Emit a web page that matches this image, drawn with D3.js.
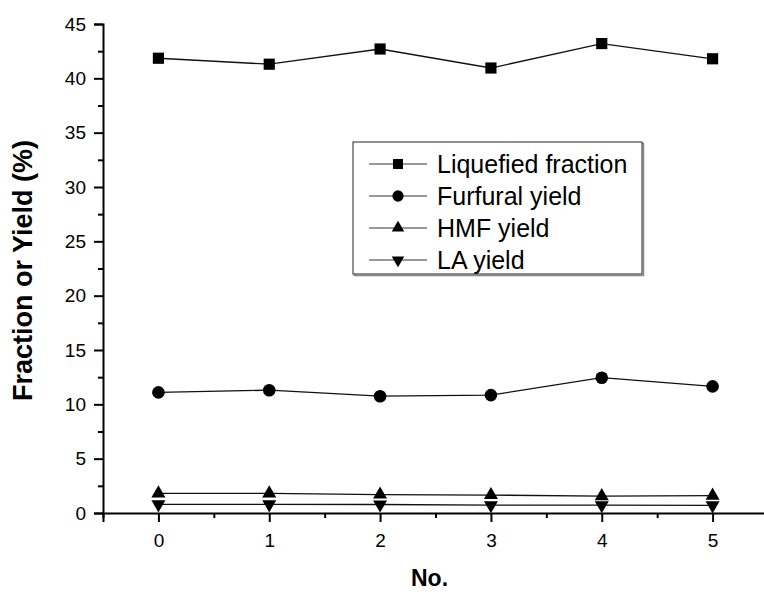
<!DOCTYPE html>
<html>
<head>
<meta charset="utf-8">
<script src="https://cdn.jsdelivr.net/npm/d3@7"></script>
<style>
    body { margin: 0; background: #fff; }
    svg { display: block; font-family: "Liberation Sans", Arial, sans-serif; }
</style>
</head>
<body>
<div id="chart"></div>
<script>
// Data
const runs = [0, 1, 2, 3, 4, 5];
const liquefied = [41.85, 41.3, 42.7, 40.95, 43.2, 41.8];
const furfural = [11.1, 11.3, 10.75, 10.85, 12.45, 11.65];
const hmf = [1.8, 1.8, 1.7, 1.65, 1.55, 1.6];
const la = [0.8, 0.8, 0.78, 0.72, 0.72, 0.7];
const seriesNames = ["Liquefied fraction", "Furfural yield", "HMF yield", "LA yield"];
const yTicks = [0, 5, 10, 15, 20, 25, 30, 35, 40, 45];

const width = 764, height = 592;
const svg = d3.select("#chart").append("svg")
    .attr("width", width)
    .attr("height", height);

const x = d3.scaleLinear().domain([-0.5, 5.5]).range([103, 768]);
const y = d3.scaleLinear().domain([0, 45]).range([513, 24]);

const symbols = [
    { type: d3.symbolSquare, size: 125, rot: 0 },
    { type: d3.symbolCircle, size: 125, rot: 0 },
    { type: d3.symbolTriangle, size: 85, rot: 0 },
    { type: d3.symbolTriangle, size: 85, rot: 180 }
];
const series = [liquefied, furfural, hmf, la].map((vals, i) => ({
    name: seriesNames[i],
    values: vals.map((v, j) => ({ x: runs[j], y: v })),
    sym: symbols[i]
}));

// axes
svg.append("g")
    .attr("transform", `translate(${x(-0.5)},0)`)
    .call(d3.axisLeft(y).tickValues(yTicks).tickSize(9).tickPadding(8));
svg.append("g")
    .attr("transform", `translate(${x(-0.5)},0)`)
    .call(d3.axisLeft(y).tickValues(d3.range(2.5, 45, 5)).tickSize(5).tickFormat(""))
    .select(".domain").remove();

svg.append("g")
    .attr("transform", `translate(0,${y(0)})`)
    .call(d3.axisBottom(x).tickValues(runs).tickFormat(d3.format("d")).tickSize(9).tickPadding(12));
svg.append("g")
    .attr("transform", `translate(0,${y(0)})`)
    .call(d3.axisBottom(x).tickValues(d3.range(-0.5, 5.6, 1)).tickSize(5).tickFormat(""))
    .select(".domain").remove();

svg.selectAll(".domain").attr("stroke", "#000").attr("stroke-width", 2);
svg.selectAll(".tick line").attr("stroke", "#000").attr("stroke-width", 2);
svg.selectAll(".tick text").attr("font-size", "19px").attr("fill", "#000")
    .attr("font-family", "Liberation Sans, Arial, sans-serif");

// axis titles
svg.append("text")
    .attr("transform", `translate(32,${(y(0) + y(45)) / 2 + 2}) rotate(-90)`)
    .attr("text-anchor", "middle")
    .attr("font-size", "27px")
    .attr("font-weight", "bold")
    .text("Fraction or Yield (%)");

svg.append("text")
    .attr("x", x(2.5) - 6)
    .attr("y", 586)
    .attr("text-anchor", "middle")
    .attr("font-size", "23px")
    .attr("font-weight", "bold")
    .text("No.");

// lines and markers
const line = d3.line().x(d => x(d.x)).y(d => y(d.y));
series.forEach(s => {
    svg.append("path")
        .datum(s.values)
        .attr("fill", "none")
        .attr("stroke", "#111")
        .attr("stroke-width", 1.3)
        .attr("d", line);
    svg.selectAll(null)
        .data(s.values)
        .enter()
        .append("path")
        .attr("d", d3.symbol().type(s.sym.type).size(s.sym.size))
        .attr("transform", d => `translate(${x(d.x)},${y(d.y)}) rotate(${s.sym.rot})`)
        .attr("fill", "#000");
});

// legend
const legend = svg.append("g");
const lgX = 353, lgY = 142, lgW = 289, lgH = 132;
legend.append("rect")
    .attr("x", lgX + 1.5).attr("y", lgY + 1.5)
    .attr("width", lgW).attr("height", lgH)
    .attr("fill", "none").attr("stroke", "#888").attr("stroke-width", 1.5);
legend.append("rect")
    .attr("x", lgX).attr("y", lgY)
    .attr("width", lgW).attr("height", lgH)
    .attr("fill", "#fff").attr("stroke", "#222").attr("stroke-width", 1);

const rowY = d3.scaleLinear().domain([0, 3]).range([lgY + 22, lgY + 118]);
series.forEach((s, i) => {
    const ry = rowY(i);
    legend.append("line")
        .attr("x1", 369).attr("x2", 427)
        .attr("y1", ry).attr("y2", ry)
        .attr("stroke", "#333").attr("stroke-width", 1.2);
    legend.append("path")
        .attr("d", d3.symbol().type(s.sym.type).size(s.sym.size * 0.8))
        .attr("transform", `translate(398,${ry}) rotate(${s.sym.rot})`)
        .attr("fill", "#000");
    legend.append("text")
        .attr("x", 437)
        .attr("y", ry + 9)
        .attr("font-size", "25px")
        .attr("fill", "#000")
        .text(s.name);
});
</script>
</body>
</html>
